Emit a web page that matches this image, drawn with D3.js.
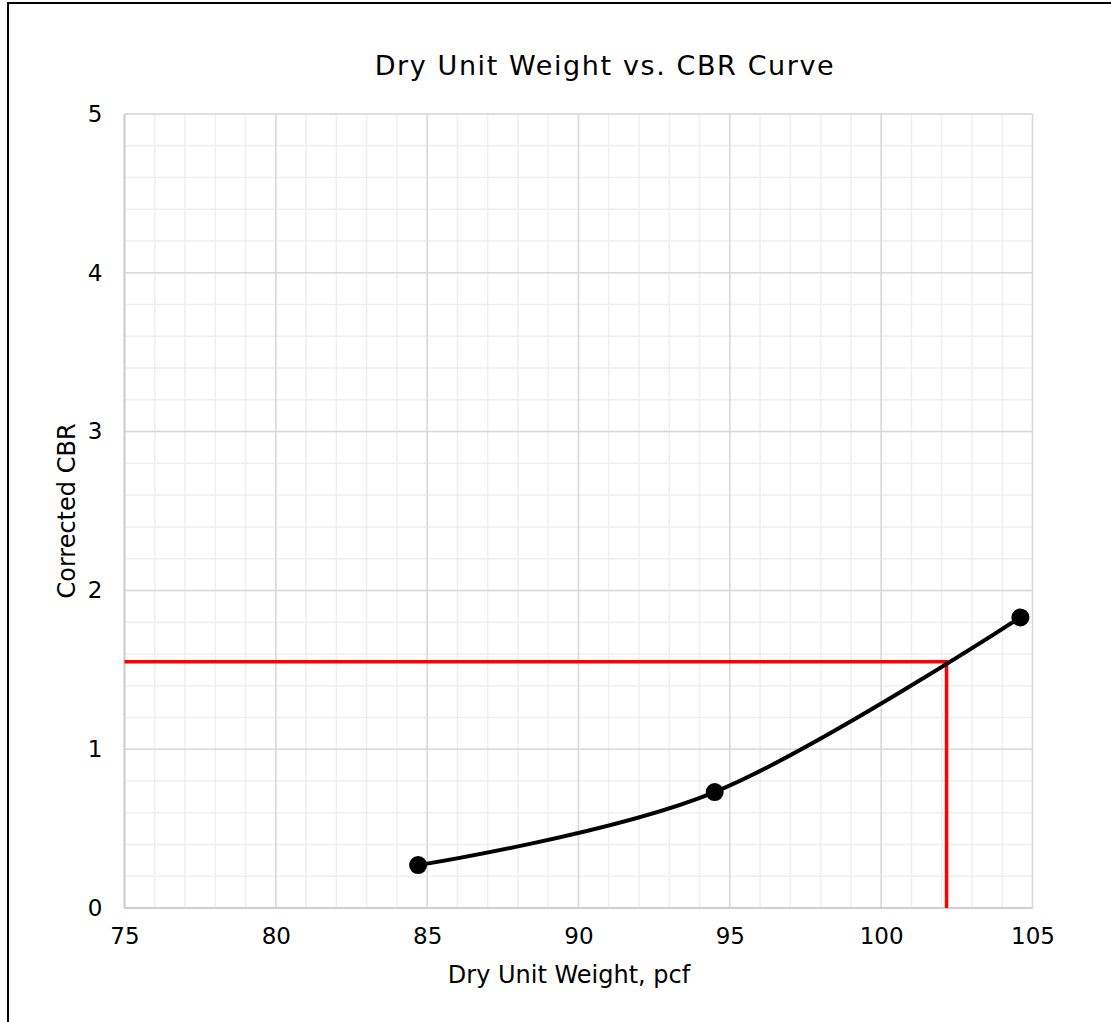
<!DOCTYPE html>
<html>
<head>
<meta charset="utf-8">
<script src="https://cdn.jsdelivr.net/npm/d3@7"></script>
<style>
  html, body { margin: 0; padding: 0; background: #fff; }
  svg { display: block; font-family: "DejaVu Sans", sans-serif; }
</style>
</head>
<body>
<svg id="chart" width="1111" height="1022"></svg>
<script>
// Measured points: dry unit weight (pcf) and corrected CBR
const dryUnitWeight = [84.7, 94.5, 104.6];
const correctedCBR = [0.27, 0.73, 1.83];

// Design read-off on the curve
const designWeight = 102.16;
const designCBR = 1.55;

// Axis ticks
const xTicks = [75, 80, 85, 90, 95, 100, 105];
const yTicks = [0, 1, 2, 3, 4, 5];
const xMinor = d3.range(75, 105.01, 1);
const yMinor = d3.range(0, 5.001, 0.2);

const svg = d3.select("#chart");
const plot = { left: 124.5, right: 1032.5, top: 114, bottom: 908 };

const x = d3.scaleLinear().domain([75, 105]).range([plot.left, plot.right]);
const y = d3.scaleLinear().domain([0, 5]).range([plot.bottom, plot.top]);

// Outer chart frame
svg.append("rect")
  .attr("x", 8).attr("y", 3).attr("width", 1200).attr("height", 1100)
  .attr("fill", "#fff").attr("stroke", "#000").attr("stroke-width", 2);

// Minor grid
const grid = svg.append("g");
grid.selectAll(".vx").data(xMinor).join("line")
  .attr("x1", d => x(d)).attr("x2", d => x(d))
  .attr("y1", plot.top).attr("y2", plot.bottom)
  .attr("stroke", "#efefef").attr("stroke-width", 1.5);
grid.selectAll(".hy").data(yMinor).join("line")
  .attr("y1", d => y(d)).attr("y2", d => y(d))
  .attr("x1", plot.left).attr("x2", plot.right)
  .attr("stroke", "#efefef").attr("stroke-width", 1.5);

// Major grid
grid.selectAll(".mx").data(xTicks).join("line")
  .attr("x1", d => x(d)).attr("x2", d => x(d))
  .attr("y1", plot.top).attr("y2", plot.bottom)
  .attr("stroke", "#d9d9d9").attr("stroke-width", 1.5);
grid.selectAll(".my").data(yTicks).join("line")
  .attr("y1", d => y(d)).attr("y2", d => y(d))
  .attr("x1", plot.left).attr("x2", plot.right)
  .attr("stroke", "#d9d9d9").attr("stroke-width", 1.5);

// Plot-area axis lines
svg.append("line")
  .attr("x1", plot.left).attr("x2", plot.right)
  .attr("y1", y(0)).attr("y2", y(0))
  .attr("stroke", "#cfcfcf").attr("stroke-width", 2);
svg.append("line")
  .attr("x1", x(75)).attr("x2", x(75))
  .attr("y1", plot.top).attr("y2", plot.bottom)
  .attr("stroke", "#cfcfcf").attr("stroke-width", 2);

// Tick labels via d3 axes
const xAxis = svg.append("g")
  .attr("transform", `translate(0,${plot.bottom})`)
  .call(d3.axisBottom(x).tickValues(xTicks).tickFormat(d3.format("d")).tickSize(0).tickPadding(20));
const yAxis = svg.append("g")
  .attr("transform", `translate(${plot.left},0)`)
  .call(d3.axisLeft(y).tickValues(yTicks).tickFormat(d3.format("d")).tickSize(0).tickPadding(22));
[xAxis, yAxis].forEach(a => {
  a.attr("font-family", null).attr("font-size", null);
  a.select(".domain").remove();
  a.selectAll("text")
    .style("font-family", "'DejaVu Sans', sans-serif")
    .style("font-size", "23px").attr("fill", "#000");
});
xAxis.selectAll("text").attr("dy", "0.71em");

// Red design read-off lines
svg.append("path")
  .attr("d", d3.line()([
    [x(75), y(designCBR)],
    [x(designWeight), y(designCBR)],
    [x(designWeight), y(0)]
  ]))
  .attr("fill", "none").attr("stroke", "#ff0000").attr("stroke-width", 3.5);

// Smoothed curve through the measured points
const pts = dryUnitWeight.map((d, i) => [d, correctedCBR[i]]);
svg.append("path")
  .datum(pts)
  .attr("d", d3.line().x(d => x(d[0])).y(d => y(d[1])).curve(d3.curveCardinal.tension(0)))
  .attr("fill", "none").attr("stroke", "#000").attr("stroke-width", 4);

svg.selectAll(".pt").data(pts).join("circle")
  .attr("cx", d => x(d[0])).attr("cy", d => y(d[1])).attr("r", 9)
  .attr("fill", "#000");

// Titles
svg.append("text")
  .attr("x", 605).attr("y", 75).attr("text-anchor", "middle")
  .style("font-size", "27px").style("letter-spacing", "1.6px").attr("fill", "#000")
  .text("Dry Unit Weight vs. CBR Curve");
svg.append("text")
  .attr("x", 569).attr("y", 983).attr("text-anchor", "middle")
  .style("font-size", "24px").attr("fill", "#000")
  .text("Dry Unit Weight, pcf");
svg.append("text")
  .attr("transform", "translate(75,511) rotate(-90)")
  .attr("text-anchor", "middle")
  .style("font-size", "24px").attr("fill", "#000")
  .text("Corrected CBR");
</script>
</body>
</html>
